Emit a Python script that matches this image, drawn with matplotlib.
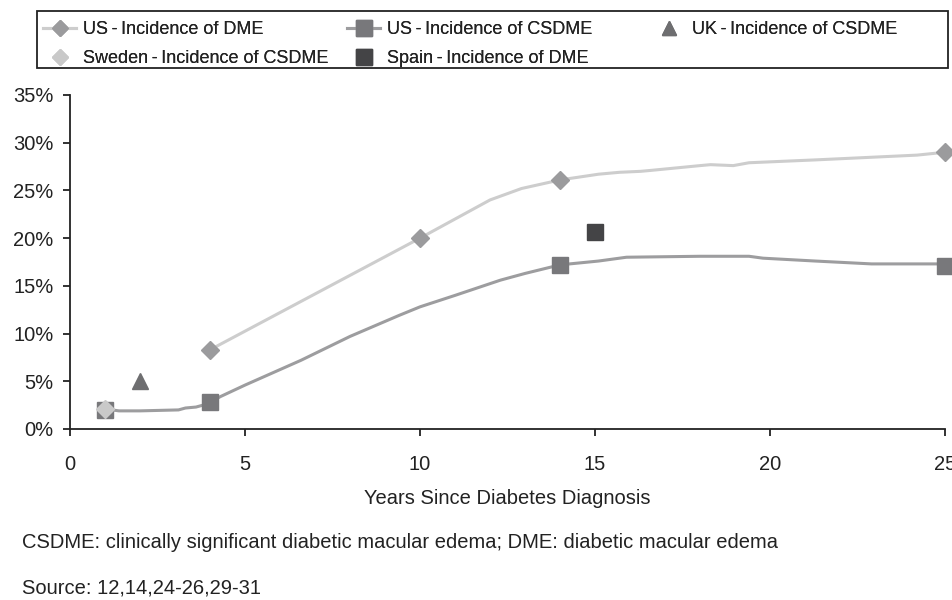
import numpy as np
import matplotlib
matplotlib.use("Agg")
from matplotlib import pyplot as plt
from matplotlib.patches import Rectangle
from matplotlib.ticker import PercentFormatter

plt.rcParams['font.family'] = ['Liberation Sans', 'DejaVu Sans']

# US incidence of DME (smoothed curve + marked study points), % by years since diagnosis
dme_curve_x = [4, 10, 11.2, 12, 12.9, 14, 15.1, 15.7, 16.3, 16.6, 18, 18.3, 18.95, 19.4, 21.3, 24.2, 25]
dme_curve_y = [8.3, 20.0, 22.4, 24.0, 25.2, 26.1, 26.7, 26.9, 27.0, 27.1, 27.6, 27.7, 27.6, 27.9, 28.2, 28.7, 29.0]
dme_mark_x = [4, 10, 14, 25]
dme_mark_y = [8.3, 20.0, 26.1, 29.0]

# US incidence of CSDME
csdme_curve_x = [1, 1.4, 2, 3.1, 3.3, 3.6, 3.8, 4, 4.3, 5, 6.6, 8, 9.4, 10, 11, 12.3, 13, 14,
                 15.1, 15.9, 18, 19.4, 19.8, 21.3, 22.9, 24.8, 25]
csdme_curve_y = [2.1, 1.9, 1.9, 2.0, 2.2, 2.3, 2.5, 2.8, 3.4, 4.6, 7.2, 9.7, 11.9, 12.8, 14.0, 15.6, 16.3, 17.2,
                 17.6, 18.0, 18.1, 18.1, 17.9, 17.6, 17.3, 17.3, 17.2]
csdme_mark_x = [1, 4, 14, 25]
csdme_mark_y = [2.0, 2.8, 17.2, 17.1]

uk_x, uk_y = [2], [5.0]
sweden_x, sweden_y = [1], [2.1]
spain_x, spain_y = [15], [20.6]

sp = '\u2009'
labels = ['US' + sp + '-' + sp + 'Incidence of DME',
          'US' + sp + '-' + sp + 'Incidence of CSDME',
          'UK' + sp + '-' + sp + 'Incidence of CSDME',
          'Sweden' + sp + '-' + sp + 'Incidence of CSDME',
          'Spain' + sp + '-' + sp + 'Incidence of DME']

C_DME_LINE = '#cdcdcd'
C_DME_MARK = '#9b9b9d'
C_CS_LINE = '#9d9d9f'
C_CS_MARK = '#78787b'
C_UK = '#6e6e70'
C_SWE = '#c9c9c9'
C_SPAIN = '#444446'

fig = plt.figure(figsize=(9.53, 6.0), dpi=100)
ax = fig.add_axes([0.07345, 0.285, 0.91815, 0.55667])

ax.plot(dme_curve_x, dme_curve_y, color=C_DME_LINE, lw=2.2, zorder=2)
ax.plot(csdme_curve_x, csdme_curve_y, color=C_CS_LINE, lw=2.2, zorder=2)
ax.plot(csdme_mark_x, csdme_mark_y, 's', color=C_CS_MARK, ms=12, zorder=3, clip_on=False)
ax.plot(dme_mark_x, dme_mark_y, 'D', color=C_DME_MARK, ms=9, zorder=4, clip_on=False)
ax.plot(uk_x, uk_y, '^', color=C_UK, ms=11.5, zorder=4)
ax.plot(sweden_x, sweden_y, 'D', color=C_SWE, ms=9, zorder=5)
ax.plot(spain_x, spain_y, 's', color=C_SPAIN, ms=12, zorder=4)

ax.set_xlim(0, 25)
ax.set_ylim(0, 35)
ax.set_xticks([0, 5, 10, 15, 20, 25])
ax.set_yticks(np.arange(0, 36, 5))
ax.yaxis.set_major_formatter(PercentFormatter(decimals=0))
for s in ['top', 'right']:
    ax.spines[s].set_visible(False)
for s in ['left', 'bottom']:
    ax.spines[s].set_linewidth(1.3)
    ax.spines[s].set_color('#222222')
ax.tick_params(axis='both', labelsize=14.5, width=1.3, color='#222222', labelcolor='#222222')
ax.tick_params(axis='x', length=5, pad=14)
ax.tick_params(axis='y', length=5, pad=7)
ax.set_xlabel('Years Since Diabetes Diagnosis', fontsize=14.5, labelpad=10.5, color='#222222')

# legend: three columns filled row by row, boxed
h1, = ax.plot([], [], color=C_DME_LINE, lw=2.2, marker='D', mfc=C_DME_MARK, mec=C_DME_MARK, ms=8)
h2, = ax.plot([], [], color=C_CS_LINE, lw=2.2, marker='s', mfc=C_CS_MARK, mec=C_CS_MARK, ms=11)
h3, = ax.plot([], [], ls='none', marker='^', color=C_UK, ms=10)
h4, = ax.plot([], [], ls='none', marker='D', color=C_SWE, ms=8)
h5, = ax.plot([], [], ls='none', marker='s', color=C_SPAIN, ms=11)

cols = [([h1, h4], [labels[0], labels[3]], 43),
        ([h2, h5], [labels[1], labels[4]], 347),
        ([h3], [labels[2]], 652)]
for hs, ls, xpx in cols:
    lg = fig.legend(hs, ls, loc='upper left', bbox_to_anchor=(xpx / 953, 1 - 21 / 600),
                    frameon=False, fontsize=13, handlelength=1.85, handletextpad=0.35,
                    borderpad=0, borderaxespad=0, labelspacing=0.68, labelcolor='#222222')
    fig.add_artist(lg)

fig.add_artist(Rectangle((37 / 953, 1 - 68 / 600), 911 / 953, 57 / 600,
                         transform=fig.transFigure, fill=False, edgecolor='#222222', lw=1.3))

fig.text(22 / 953, 1 - 542 / 600,
         'CSDME: clinically significant diabetic macular edema; DME: diabetic macular edema',
         fontsize=14.5, va='center', color='#222222')
fig.text(22 / 953, 1 - 588 / 600, 'Source: 12,14,24-26,29-31', fontsize=14.5, va='center', color='#222222')

fig.savefig('out.png', dpi=100)
